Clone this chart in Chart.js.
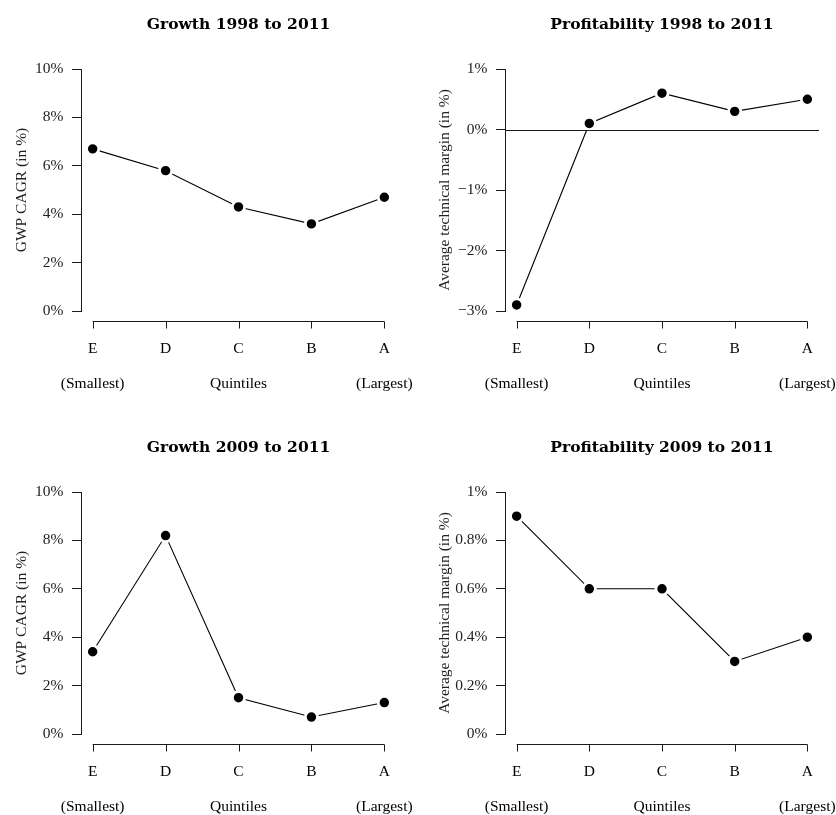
<!DOCTYPE html>
<html>
<head>
<meta charset="utf-8">
<script src="https://cdn.jsdelivr.net/npm/chart.js@4/dist/chart.umd.min.js"></script>
<style>
  body { margin: 0; background: #fff; overflow: hidden; }
  .panel { position: absolute; }
</style>
</head>
<body>
<div class="panel" style="left:0;top:0"><canvas id="growth98" width="418" height="420"></canvas></div>
<div class="panel" style="left:418px;top:0"><canvas id="profit98" width="418" height="420"></canvas></div>
<div class="panel" style="left:0;top:423px"><canvas id="growth09" width="418" height="420"></canvas></div>
<div class="panel" style="left:418px;top:423px"><canvas id="profit09" width="418" height="420"></canvas></div>
<script>
// quintiles, smallest to largest
let quintiles = ["E", "D", "C", "B", "A"];
let quintileNotes = ["(Smallest)", "", "Quintiles", "", "(Largest)"];

// values in %
let growth1998 = [6.7, 5.8, 4.3, 3.6, 4.7];
let profit1998 = [-2.9, 0.1, 0.6, 0.3, 0.5];
let growth2009 = [3.4, 8.2, 1.5, 0.7, 1.3];
let profit2009 = [0.9, 0.6, 0.6, 0.3, 0.4];

let growthTicks = [0, 10, 2];
let profit98Ticks = [-3, 1, 1];
let profit09Ticks = [0, 1, 0.2];

const serif = "'Liberation Serif', 'Times New Roman', serif";
const ink = "#1a1a1a";

function pct(v) {
  let r = Math.round(v * 10) / 10;
  return (r < 0 ? "\u2212" + Math.abs(r) : r) + "%";
}

// R-style detached x axis + zero reference line
const rAxes = {
  id: "rAxes",
  afterDatasetsDraw(chart) {
    const ctx = chart.ctx;
    const x = chart.scales.x;
    const y = chart.scales.y;
    const area = chart.chartArea;
    ctx.save();
    ctx.strokeStyle = ink;
    ctx.lineWidth = 1;
    let ay = Math.round(area.bottom + 10) + 0.5;
    ctx.beginPath();
    ctx.moveTo(x.getPixelForValue(0), ay);
    ctx.lineTo(x.getPixelForValue(quintiles.length - 1), ay);
    for (let i = 0; i < quintiles.length; i++) {
      let px = Math.round(x.getPixelForValue(i)) + 0.5;
      ctx.moveTo(px, ay);
      ctx.lineTo(px, ay + 7);
    }
    ctx.stroke();
    if (y.min < 0 && y.max > 0) {
      let zy = Math.round(y.getPixelForValue(0)) + 0.5;
      ctx.beginPath();
      ctx.moveTo(area.left, zy);
      ctx.lineTo(area.right, zy);
      ctx.stroke();
    }
    ctx.restore();
  },
};

function makeChart(id, title, yTitle, values, yTicks, side) {
  let leftWidth = side === "left" ? 81 : 87;
  let titlePad = side === "left" ? 12.5 : 17.7;
  let config = {
    type: "line",
    data: {
      datasets: [
        {
          data: values.map((v, i) => ({ x: i, y: v })),
          borderColor: "#000",
          borderWidth: 1.1,
          pointRadius: 6.1,
          pointHoverRadius: 6.1,
          pointBorderWidth: 2.75,
          pointBackgroundColor: "#000",
          pointBorderColor: "#fff",
          clip: false,
        },
      ],
    },
    options: {
      responsive: false,
      animation: false,
      layout: { padding: { left: 0, right: side === "left" ? 22 : 17, top: 0, bottom: 0 } },
      plugins: {
        legend: { display: false },
        tooltip: { enabled: false },
        title: {
          display: true,
          text: title,
          fullSize: false,
          color: "#000",
          font: { family: "'DejaVu Serif', serif", size: 15.5, weight: "bold" },
          padding: { top: 15.2, bottom: 35.2 },
        },
      },
      scales: {
        x: {
          type: "linear",
          min: -0.16,
          max: quintiles.length - 1 + 0.16,
          grid: { display: false, drawTicks: false },
          border: { display: false },
          ticks: {
            stepSize: 1,
            includeBounds: false,
            autoSkip: false,
            maxRotation: 0,
            padding: 28.75,
            color: "#000",
            font: { family: serif, size: 15.5, lineHeight: 1.13 },
            callback: (v) => {
              let note = quintileNotes[v];
              return note ? [quintiles[v], "", note] : quintiles[v];
            },
          },
          afterFit: (s) => {
            s.height = 109;
            s.paddingLeft = 0;
            s.paddingRight = 0;
          },
        },
        y: {
          min: yTicks[0],
          max: yTicks[1],
          grid: { drawOnChartArea: false, drawTicks: true, tickLength: 9, color: ink },
          border: { display: true, color: ink, width: 1 },
          ticks: {
            stepSize: yTicks[2],
            padding: 8.5,
            color: "#222",
            font: { family: serif, size: 15.5 },
            callback: (v) => pct(v),
          },
          title: {
            display: true,
            text: yTitle,
            color: "#222",
            font: { family: serif, size: 15.5 },
            padding: { top: titlePad, bottom: 0 },
          },
          afterFit: (s) => {
            s.width = leftWidth;
          },
        },
      },
    },
    plugins: [rAxes],
  };
  return new Chart(document.getElementById(id), config);
}

makeChart("growth98", "Growth 1998 to 2011", "GWP CAGR (in %)", growth1998, growthTicks, "left");
makeChart("profit98", "Profitability 1998 to 2011", "Average technical margin (in %)", profit1998, profit98Ticks, "right");
makeChart("growth09", "Growth 2009 to 2011", "GWP CAGR (in %)", growth2009, growthTicks, "left");
makeChart("profit09", "Profitability 2009 to 2011", "Average technical margin (in %)", profit2009, profit09Ticks, "right");
</script>
</body>
</html>
